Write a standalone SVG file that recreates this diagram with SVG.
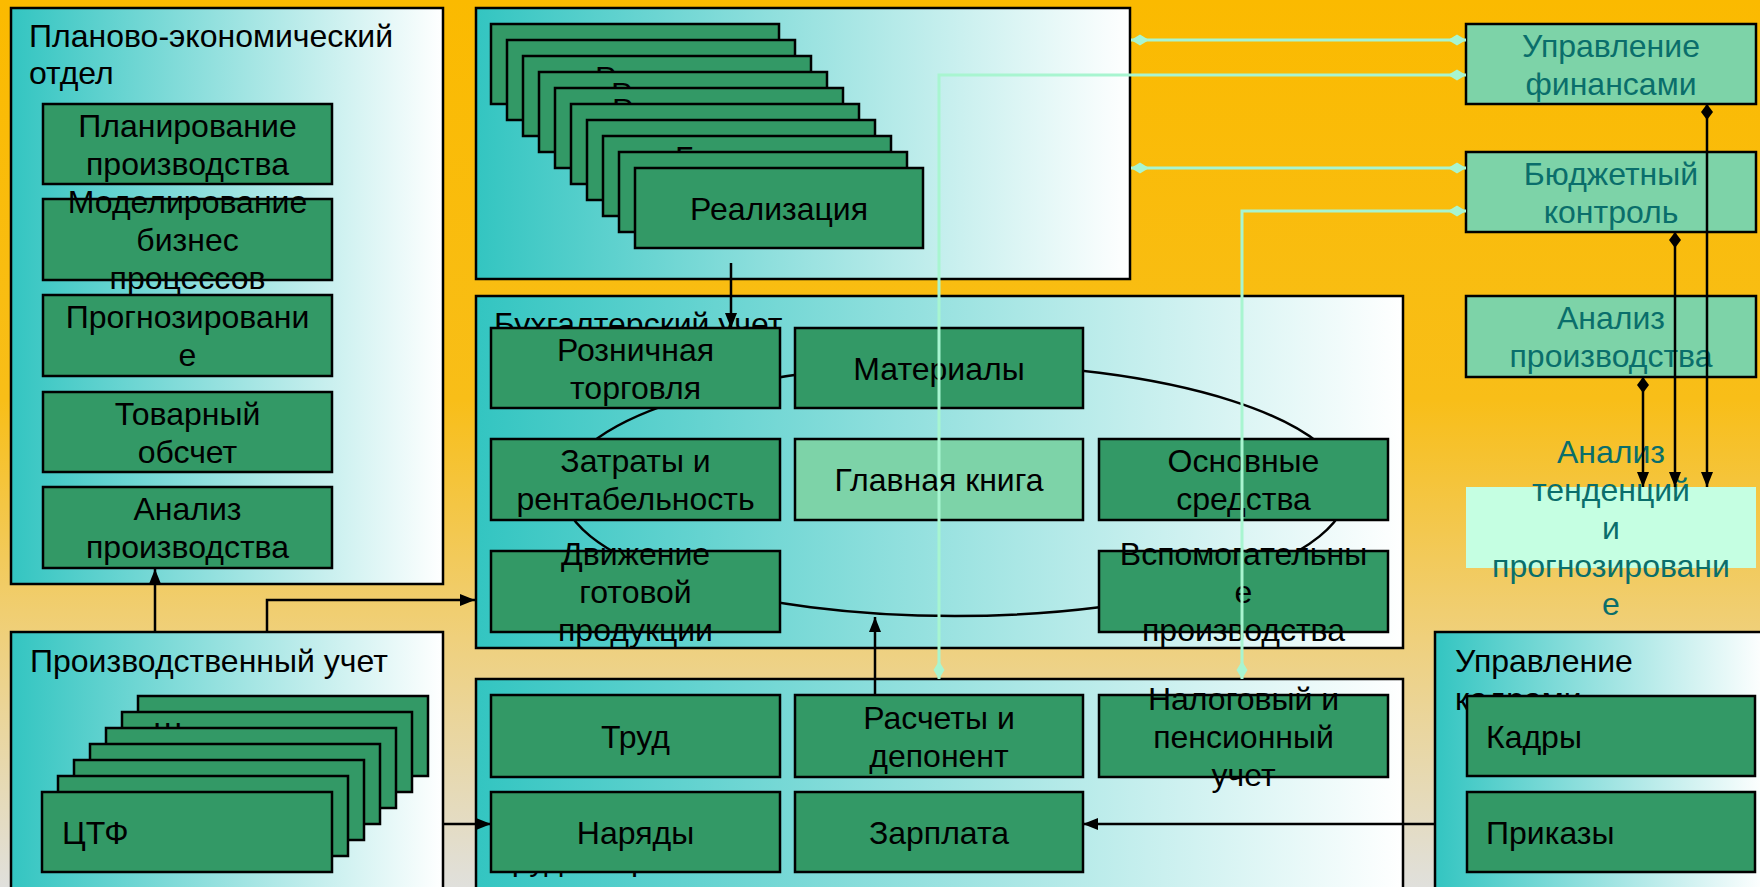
<svg xmlns="http://www.w3.org/2000/svg" width="1760" height="887" viewBox="0 0 1760 887">
<defs>
<linearGradient id="bg" x1="0" y1="0" x2="0" y2="1">
<stop offset="0" stop-color="#FBBA00"/>
<stop offset="0.45" stop-color="#F8BE18"/>
<stop offset="0.72" stop-color="#EFD07C"/>
<stop offset="1" stop-color="#E0E0DC"/>
</linearGradient>
<linearGradient id="pg" x1="0" y1="0" x2="1" y2="0">
<stop offset="0" stop-color="#33C5C1"/>
<stop offset="1" stop-color="#FFFFFF"/>
</linearGradient>
<marker id="arr" viewBox="0 0 15 12" refX="15" refY="6" markerWidth="15" markerHeight="12" markerUnits="userSpaceOnUse" orient="auto"><path d="M0,0 L15,6 L0,12 Z" fill="#000"/></marker>
<marker id="dk" viewBox="0 0 16 12" refX="16" refY="6" markerWidth="16" markerHeight="12" markerUnits="userSpaceOnUse" orient="auto-start-reverse"><path d="M0,6 L8,0 L16,6 L8,12 Z" fill="#000"/></marker>
<marker id="dl" viewBox="0 0 18 12" refX="18" refY="6" markerWidth="18" markerHeight="12" markerUnits="userSpaceOnUse" orient="auto-start-reverse"><path d="M0,6 L9,0.5 L18,6 L9,11.5 Z" fill="#A8F5D0"/></marker>
</defs>
<style>
.panel{fill:url(#pg);stroke:#000;stroke-width:2.5}
.box{fill:#339966;stroke:#000;stroke-width:2.5}
.lbox{fill:#7DD3A8;stroke:#000;stroke-width:2.5}
.pbox{fill:#C5FFE2;stroke:none}
.t{font-family:"Liberation Sans",Arial,sans-serif;font-size:32px;fill:#000}
.c{text-anchor:middle}
.teal{fill:#0A6E6B}
.conn{stroke:#000;stroke-width:2.5;fill:none}
.lg{stroke:#A8F5D0;stroke-width:3;fill:none}
.ell{stroke:#000;stroke-width:2.5;fill:none}
</style>
<rect x="0" y="0" width="1760" height="887" fill="url(#bg)"/>

<g id="planning-dept">
<rect class="panel" x="11" y="8" width="432" height="576"/>
<text class="t" x="29" y="47">Планово-экономический</text>
<text class="t" x="29" y="84">отдел</text>
</g>
<g id="plan-production"><rect class="box" x="43" y="104" width="289" height="80"/>
<text class="t c" x="187.5" y="136.5">Планирование</text><text class="t c" x="187.5" y="174.5">производства</text></g>
<g id="modeling"><rect class="box" x="43" y="199" width="289" height="81"/>
<text class="t c" x="187.5" y="213">Моделирование</text><text class="t c" x="187.5" y="251">бизнес</text><text class="t c" x="187.5" y="289">процессов</text></g>
<g id="forecasting"><rect class="box" x="43" y="295" width="289" height="81"/>
<text class="t c" x="187.5" y="328">Прогнозировани</text><text class="t c" x="187.5" y="366">е</text></g>
<g id="goods-calc"><rect class="box" x="43" y="392" width="289" height="80"/>
<text class="t c" x="187.5" y="424.5">Товарный</text><text class="t c" x="187.5" y="462.5">обсчет</text></g>
<g id="prod-analysis-left"><rect class="box" x="43" y="487" width="289" height="81"/>
<text class="t c" x="187.5" y="520">Анализ</text><text class="t c" x="187.5" y="558">производства</text></g>

<g id="trade-panel">
<rect class="panel" x="476" y="8" width="654" height="271"/>
<g id="card0"><rect class="box" x="491" y="24" width="288" height="80"/></g>
<g id="card1"><rect class="box" x="507" y="40" width="288" height="80"/></g>
<g id="card2"><rect class="box" x="523" y="56" width="288" height="80"/><text class="t" x="595" y="88.5">Р</text></g>
<g id="card3"><rect class="box" x="539" y="72" width="288" height="80"/><text class="t" x="611" y="104.5">Р</text></g>
<g id="card4"><rect class="box" x="555" y="88" width="288" height="80"/><text class="t" x="612" y="120.5">Р</text></g>
<g id="card5"><rect class="box" x="571" y="104" width="288" height="80"/></g>
<g id="card6"><rect class="box" x="587" y="120" width="288" height="80"/></g>
<g id="card7"><rect class="box" x="603" y="136" width="288" height="80"/><text class="t" x="675" y="168.5">Б</text></g>
<g id="card8"><rect class="box" x="619" y="152" width="288" height="80"/></g>
<g id="sales"><rect class="box" x="635" y="168" width="288" height="80"/><text class="t c" x="779" y="219.5">Реализация</text></g>
</g>

<g id="accounting">
<rect class="panel" x="476" y="296" width="927" height="352"/>
<text class="t" x="494" y="335">Бухгалтерский учет</text>
<ellipse class="ell" cx="955" cy="490" rx="392" ry="126"/>
</g>
<g id="retail"><rect class="box" x="491" y="328" width="289" height="80"/>
<text class="t c" x="635.5" y="360.5">Розничная</text><text class="t c" x="635.5" y="398.5">торговля</text></g>
<g id="materials"><rect class="box" x="795" y="328" width="288" height="80"/>
<text class="t c" x="939" y="379.5">Материалы</text></g>
<g id="costs"><rect class="box" x="491" y="439" width="289" height="81"/>
<text class="t c" x="635.5" y="472">Затраты и</text><text class="t c" x="635.5" y="510">рентабельность</text></g>
<g id="ledger"><rect class="lbox" x="795" y="439" width="288" height="81"/>
<text class="t c" x="939" y="491">Главная книга</text></g>
<g id="fixed-assets"><rect class="box" x="1099" y="439" width="289" height="81"/>
<text class="t c" x="1243.5" y="472">Основные</text><text class="t c" x="1243.5" y="510">средства</text></g>
<g id="finished-goods"><rect class="box" x="491" y="551" width="289" height="81"/>
<text class="t c" x="635.5" y="565">Движение</text><text class="t c" x="635.5" y="603">готовой</text><text class="t c" x="635.5" y="641">продукции</text></g>
<g id="auxiliary"><rect class="box" x="1099" y="551" width="289" height="81"/>
<text class="t c" x="1243.5" y="565">Вспомогательны</text><text class="t c" x="1243.5" y="603">е</text><text class="t c" x="1243.5" y="641">производства</text></g>

<g id="labor-panel">
<rect class="panel" x="476" y="679" width="927" height="220"/>
<text class="t" x="494" y="870">Труд и зарплата</text>
</g>
<g id="labor"><rect class="box" x="491" y="695" width="289" height="82"/>
<text class="t c" x="635.5" y="747.5">Труд</text></g>
<g id="settlements"><rect class="box" x="795" y="695" width="288" height="82"/>
<text class="t c" x="939" y="728.5">Расчеты и</text><text class="t c" x="939" y="766.5">депонент</text></g>
<g id="tax"><rect class="box" x="1099" y="695" width="289" height="82"/>
<text class="t c" x="1243.5" y="709.5">Налоговый и</text><text class="t c" x="1243.5" y="747.5">пенсионный</text><text class="t c" x="1243.5" y="785.5">учет</text></g>
<g id="orders"><rect class="box" x="491" y="792" width="289" height="80"/>
<text class="t c" x="635.5" y="843.5">Наряды</text></g>
<g id="salary"><rect class="box" x="795" y="792" width="288" height="80"/>
<text class="t c" x="939" y="843.5">Зарплата</text></g>

<g id="production-accounting">
<rect class="panel" x="11" y="632" width="432" height="267"/>
<text class="t" x="30" y="672">Производственный учет</text>
<g id="pcard0"><rect class="box" x="138" y="696" width="290" height="80"/></g>
<g id="pcard1"><rect class="box" x="122" y="712" width="290" height="80"/><text class="t" x="153" y="744.5">Ш</text></g>
<g id="pcard2"><rect class="box" x="106" y="728" width="290" height="80"/></g>
<g id="pcard3"><rect class="box" x="90" y="744" width="290" height="80"/></g>
<g id="pcard4"><rect class="box" x="74" y="760" width="290" height="80"/></g>
<g id="pcard5"><rect class="box" x="58" y="776" width="290" height="80"/></g>
<g id="ctf"><rect class="box" x="42" y="792" width="290" height="80"/><text class="t" x="62" y="843.5">ЦТФ</text></g>
</g>

<g id="hr">
<rect class="panel" x="1435" y="632" width="330" height="267"/>
<text class="t" x="1455" y="672">Управление</text>
<text class="t" x="1455" y="710">кадрами</text>
<g id="staff"><rect class="box" x="1467" y="696" width="288" height="80"/><text class="t" x="1486" y="747.5">Кадры</text></g>
<g id="decrees"><rect class="box" x="1467" y="792" width="288" height="80"/><text class="t" x="1486" y="843.5">Приказы</text></g>
</g>

<g id="finance-mgmt"><rect class="lbox" x="1466" y="24" width="290" height="80"/>
<text class="t c teal" x="1611" y="56.5">Управление</text><text class="t c teal" x="1611" y="94.5">финансами</text></g>
<g id="budget"><rect class="lbox" x="1466" y="152" width="290" height="80"/>
<text class="t c teal" x="1611" y="184.5">Бюджетный</text><text class="t c teal" x="1611" y="222.5">контроль</text></g>
<g id="prod-analysis-right"><rect class="lbox" x="1466" y="296" width="290" height="81"/>
<text class="t c teal" x="1611" y="329">Анализ</text><text class="t c teal" x="1611" y="367">производства</text></g>
<g id="trend-analysis"><rect class="pbox" x="1466" y="487" width="290" height="81"/>
<text class="t c teal" x="1611" y="463">Анализ</text><text class="t c teal" x="1611" y="501">тенденций</text><text class="t c teal" x="1611" y="539">и</text><text class="t c teal" x="1611" y="577">прогнозировани</text><text class="t c teal" x="1611" y="615">е</text></g>

<g id="connectors">
<path class="lg" d="M1131,40 H1466" marker-start="url(#dl)" marker-end="url(#dl)"/>
<path class="lg" d="M939,679 V75 H1466" marker-start="url(#dl)" marker-end="url(#dl)"/>
<path class="lg" d="M1131,168 H1466" marker-start="url(#dl)" marker-end="url(#dl)"/>
<path class="lg" d="M1242,679 V211 H1466" marker-start="url(#dl)" marker-end="url(#dl)"/>
<path class="conn" d="M731,263 V328" marker-end="url(#arr)"/>
<path class="conn" d="M875,695 V617" marker-end="url(#arr)"/>
<path class="conn" d="M155,632 V569" marker-end="url(#arr)"/>
<path class="conn" d="M267,632 V600 H475" marker-end="url(#arr)"/>
<path class="conn" d="M443,824 H491" marker-end="url(#arr)"/>
<path class="conn" d="M1435,824 H1083" marker-end="url(#arr)"/>
<path class="conn" d="M1707,104 V487" marker-start="url(#dk)" marker-end="url(#arr)"/>
<path class="conn" d="M1675,232 V487" marker-start="url(#dk)" marker-end="url(#arr)"/>
<path class="conn" d="M1643,377 V487" marker-start="url(#dk)" marker-end="url(#arr)"/>
</g>
</svg>
